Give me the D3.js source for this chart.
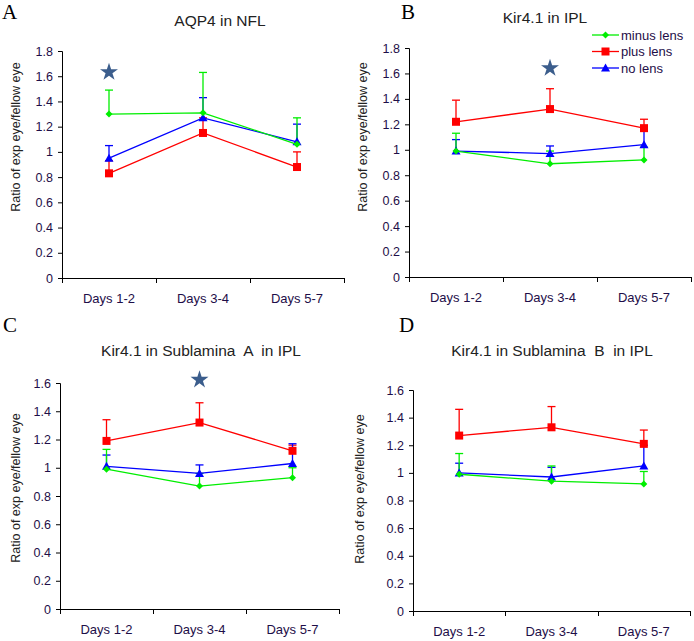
<!DOCTYPE html>
<html><head><meta charset="utf-8">
<script src="https://cdn.jsdelivr.net/npm/d3@7"></script>
<style>body{margin:0;background:#fff}svg{display:block}text{white-space:pre}</style>
</head><body>
<svg id="c" width="694" height="641"></svg>
<script>
const categories = ["Days 1-2", "Days 3-4", "Days 5-7"];
const seriesNames = ["minus lens", "plus lens", "no lens"];
const panelLetters = ["A", "B", "C", "D"];
const panelTitles = ["AQP4 in NFL", "Kir4.1 in IPL", "Kir4.1 in Sublamina  A  in IPL", "Kir4.1 in Sublamina  B  in IPL"];
const yMaxes = [1.8, 1.8, 1.6, 1.6];
const yTickValues18 = [0, 0.2, 0.4, 0.6, 0.8, 1, 1.2, 1.4, 1.6, 1.8];
const yTickValues16 = [0, 0.2, 0.4, 0.6, 0.8, 1, 1.2, 1.4, 1.6];
const yAxisTitle = "Ratio of exp eye/fellow eye";

// Panel A
const aMinus = [1.30, 1.31, 1.06], aMinusTop = [1.49, 1.63, 1.27];
const aPlus = [0.83, 1.15, 0.88], aPlusTop = [0.93, 1.27, 1.00];
const aNo = [0.95, 1.27, 1.08], aNoTop = [1.05, 1.43, 1.22];
// Panel B
const bMinus = [0.99, 0.89, 0.92], bMinusTop = [1.13, 0.99, 1.02];
const bPlus = [1.22, 1.32, 1.17], bPlusTop = [1.39, 1.48, 1.24];
const bNo = [0.99, 0.97, 1.04], bNoTop = [1.08, 1.03, 1.15];
// Panel C
const cMinus = [0.99, 0.87, 0.93], cMinusTop = [1.13, 0.96, 1.00];
const cPlus = [1.19, 1.32, 1.12], cPlusTop = [1.34, 1.46, 1.16];
const cNo = [1.01, 0.96, 1.03], cNoTop = [1.09, 1.02, 1.17];
// Panel D
const dMinus = [0.99, 0.94, 0.92], dMinusTop = [1.14, 1.05, 1.01];
const dPlus = [1.27, 1.33, 1.21], dPlusTop = [1.46, 1.48, 1.31];
const dNo = [1.00, 0.97, 1.05], dNoTop = [1.07, 1.04, 1.20];
// significance stars: [category, value]
const starsA = [["Days 1-2", 1.64]];
const starsB = [["Days 3-4", 1.65]];
const starsC = [["Days 3-4", 1.63]];
const starsD = [];

const panelData = [
  {minus: [aMinus, aMinusTop], plus: [aPlus, aPlusTop], no: [aNo, aNoTop], stars: starsA},
  {minus: [bMinus, bMinusTop], plus: [bPlus, bPlusTop], no: [bNo, bNoTop], stars: starsB},
  {minus: [cMinus, cMinusTop], plus: [cPlus, cPlusTop], no: [cNo, cNoTop], stars: starsC},
  {minus: [dMinus, dMinusTop], plus: [dPlus, dPlusTop], no: [dNo, dNoTop], stars: starsD}
];

// layout (pixel geometry)
const layout = [
  {x0: 62, x1: 344, y0: 278, y1: 51, letter: [2, 19], title: [220, 26], ylab: [20, 137], legend: false},
  {x0: 409, x1: 691, y0: 277, y1: 48, letter: [401, 19], title: [545, 23], ylab: [367, 137], legend: true},
  {x0: 60, x1: 339, y0: 609, y1: 383, letter: [3, 332], title: [201, 356], ylab: [20, 488], legend: false},
  {x0: 413, x1: 690, y0: 611, y1: 390, letter: [399, 332], title: [552, 356], ylab: [364, 489], legend: false}
];

const colors = {minus: "#00ee00", plus: "#ff0000", no: "#0000ff"};
const tickColor = "#1e0e48";
const font = "'Liberation Sans', Arial, sans-serif";
const svg = d3.select("#c");

function marker(g, type, x, y) {
  if (type === "plus") {
    g.append("rect").attr("x", x - 4).attr("y", y - 4).attr("width", 8).attr("height", 8).attr("fill", colors.plus);
  } else if (type === "no") {
    g.append("path").attr("d", `M${x},${y - 4.5}L${x + 4.5},${y + 3.5}L${x - 4.5},${y + 3.5}Z`).attr("fill", colors.no);
  } else {
    g.append("path").attr("d", `M${x},${y - 3.5}L${x + 3.5},${y}L${x},${y + 3.5}L${x - 3.5},${y}Z`).attr("fill", colors.minus);
  }
}

const starPath = d3.symbol().type(d3.symbolStar).size(100)();

panelData.forEach((pd, i) => {
  const L = layout[i];
  const g = svg.append("g");
  const x = d3.scaleBand().domain(categories).range([L.x0, L.x1]);
  const y = d3.scaleLinear().domain([0, yMaxes[i]]).range([L.y0, L.y1]);
  const ticks = yMaxes[i] > 1.7 ? yTickValues18 : yTickValues16;

  // y axis
  const ya = g.append("g").attr("transform", `translate(${L.x0},0)`)
    .call(d3.axisLeft(y).tickValues(ticks).tickSize(4).tickPadding(5).tickFormat(d => String(+d.toFixed(1))));
  ya.select(".domain").attr("stroke", "#000").attr("d", `M-4,${L.y1 + 0.5}H0.5V${L.y0}`);
  ya.selectAll(".tick line").attr("stroke", "#000");
  ya.selectAll("text").attr("fill", tickColor).attr("font-size", 12.5).attr("font-family", font);

  // x axis
  const xa = g.append("g").attr("transform", `translate(0,${L.y0})`)
    .call(d3.axisBottom(x).tickSize(0).tickPadding(16));
  xa.select(".domain").attr("stroke", "#000").attr("d", `M${L.x0},0.5H${L.x1}`);
  xa.selectAll("text").attr("fill", tickColor).attr("font-size", 13).attr("font-family", font);
  const bounds = categories.map(c => x(c)).concat([x(categories[categories.length - 1]) + x.bandwidth()]);
  xa.selectAll(".bt").data(bounds).enter().append("line")
    .attr("x1", d => Math.round(d) + 0.5).attr("x2", d => Math.round(d) + 0.5)
    .attr("y1", 0).attr("y2", 5).attr("stroke", "#000");

  const cx = c => x(c) + x.bandwidth() / 2;

  ["plus", "no", "minus"].forEach(key => {
    const [vals, tops] = pd[key];
    vals.forEach((v, j) => {
      const px = cx(categories[j]);
      g.append("line").attr("x1", px).attr("x2", px).attr("y1", y(v)).attr("y2", y(tops[j]))
        .attr("stroke", colors[key]).attr("stroke-width", 1.3);
      g.append("line").attr("x1", px - 4).attr("x2", px + 4).attr("y1", y(tops[j])).attr("y2", y(tops[j]))
        .attr("stroke", colors[key]).attr("stroke-width", 1.3);
    });
  });
  ["plus", "no", "minus"].forEach(key => {
    const [vals] = pd[key];
    const line = d3.line().x((d, j) => cx(categories[j])).y(d => y(d));
    g.append("path").attr("d", line(vals)).attr("fill", "none").attr("stroke", colors[key]).attr("stroke-width", 1.3);
    vals.forEach((v, j) => marker(g, key, cx(categories[j]), y(v)));
  });

  pd.stars.forEach(s => {
    g.append("path").attr("d", starPath).attr("transform", `translate(${cx(s[0])},${y(s[1]) + 1})`).attr("fill", "#3b5d8c");
  });

  g.append("text").attr("x", L.title[0]).attr("y", L.title[1]).attr("text-anchor", "middle")
    .attr("font-family", font).attr("font-size", 15.5).attr("fill", "#222").text(panelTitles[i]);
  g.append("text").attr("x", L.letter[0]).attr("y", L.letter[1])
    .attr("font-family", "'Liberation Serif', 'Times New Roman', serif").attr("font-size", 21).attr("fill", "#000").text(panelLetters[i]);
  g.append("text").attr("transform", `translate(${L.ylab[0]},${L.ylab[1]}) rotate(-90)`).attr("text-anchor", "middle")
    .attr("font-family", font).attr("font-size", 12.5).attr("fill", "#222").text(yAxisTitle);

  if (L.legend) {
    const keys = ["minus", "plus", "no"];
    keys.forEach((k, r) => {
      const ly = 35 + r * 16.5;
      g.append("line").attr("x1", 592).attr("x2", 619).attr("y1", ly).attr("y2", ly).attr("stroke", colors[k]).attr("stroke-width", 1.3);
      marker(g, k, 605.5, ly);
      g.append("text").attr("x", 621).attr("y", ly + 4.5).attr("font-family", font).attr("font-size", 13)
        .attr("fill", tickColor).text(seriesNames[r]);
    });
  }
});
</script>
</body></html>
